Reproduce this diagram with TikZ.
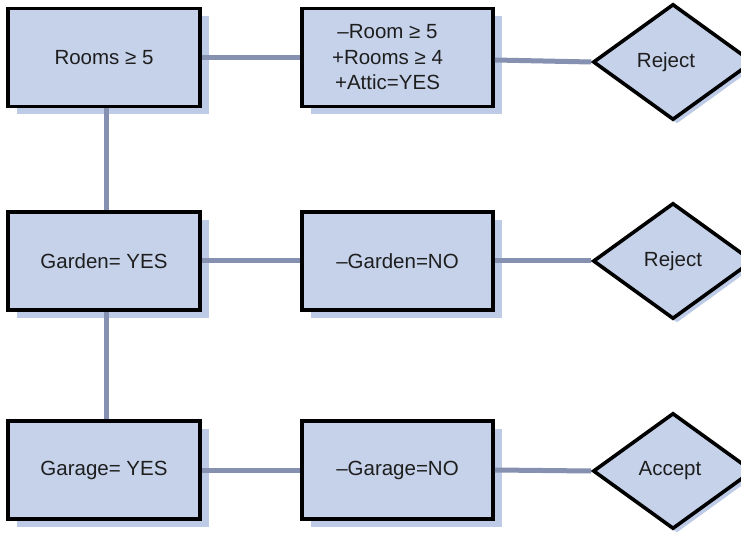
\documentclass[tikz,border=0pt]{standalone}
\usepackage{fontspec}
\setmainfont{Liberation Sans}
\usetikzlibrary{shapes.geometric,shadows}
\definecolor{boxfill}{HTML}{C5D2EA}
\definecolor{shadowfill}{HTML}{BDCBE7}
\definecolor{linkcol}{HTML}{8690B0}
\definecolor{inkcol}{HTML}{1E1E1E}
\begin{document}
\begin{tikzpicture}[x=1pt,y=-1pt,
  every node/.style={font=\fontsize{20.5}{25.5}\selectfont, text=inkcol},
  rulebox/.style={rectangle, draw=black, line width=3.6pt, fill=boxfill,
    minimum height=98pt, inner sep=0pt, align=center,
    drop shadow={shadow xshift=9pt, shadow yshift=-8pt, fill=shadowfill, opacity=1}},
  leftbox/.style={rulebox, minimum width=192pt},
  rightbox/.style={rulebox, minimum width=191pt},
  verdict/.style={diamond, draw=black, line width=3.6pt, fill=boxfill,
    minimum width=160pt, minimum height=116pt, aspect=1.38, inner sep=0pt,
    line join=miter,
    drop shadow={shadow xshift=4pt, shadow yshift=-4pt, fill=shadowfill, opacity=1}},
  link/.style={draw=linkcol, line width=5pt}
]
\useasboundingbox (0,0) rectangle (741,534);

% left column: conditions
\node[leftbox] (rooms)  at (104,57.5) {Rooms ≥ 5};
\node[leftbox] (garden) at (104,261)  {Garden= YES};
\node[leftbox] (garage) at (104,470)  {Garage= YES};

% middle column: changes
\node[rightbox] (attic)  at (397.5,57.5) {\hspace*{-20pt}–Room ≥ 5\\\hspace*{-20pt}+Rooms ≥ 4\\\hspace*{-20pt}+Attic=YES};
\node[rightbox] (nogard) at (397.5,261)  {–Garden=NO};
\node[rightbox] (nogar)  at (397.5,470)  {–Garage=NO};

% right column: decisions
\node[verdict] (rej1) at (673,62)  {\hspace*{-14pt}Reject};
\node[verdict] (rej2) at (673,261) {Reject};
\node[verdict] (acc)  at (673,471) {\hspace*{-6pt}Accept};

% connectors
\draw[link] ([xshift=2pt]rooms.south)  -- ([xshift=2pt]garden.north);
\draw[link] ([xshift=2pt]garden.south) -- ([xshift=2pt]garage.north);
\draw[link] (rooms.east)  -- (attic.west);
\draw[link] (garden.east) -- (nogard.west);
\draw[link] (garage.east) -- (nogar.west);
\draw[link] ([yshift=-2.5pt]attic.east) -- (rej1.west);
\draw[link] (nogard.east) -- (rej2.west);
\draw[link] (nogar.east)  -- (acc.west);
\end{tikzpicture}
\end{document}
